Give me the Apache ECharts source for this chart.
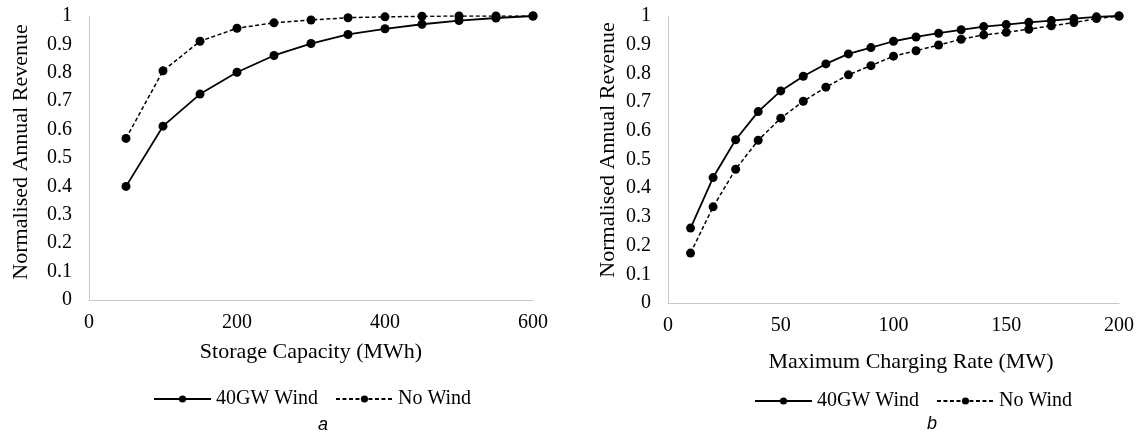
<!DOCTYPE html>
<html>
<head>
<meta charset="utf-8">
<script src="https://cdn.jsdelivr.net/npm/echarts@6/dist/echarts.min.js"></script>
<style>
html,body{margin:0;padding:0;background:#fff;}
#chart{width:1139px;height:432px;}
</style>
</head>
<body>
<div id="chart"></div>
<script>
// Panel a: Storage Capacity (MWh)
const capacityMWh = [50,100,150,200,250,300,350,400,450,500,550,600];
const capWind40   = [0.400,0.612,0.725,0.802,0.861,0.903,0.935,0.955,0.971,0.984,0.993,1.000];
const capNoWind   = [0.569,0.807,0.911,0.957,0.976,0.986,0.994,0.997,0.999,1.000,1.000,1.000];

// Panel b: Maximum Charging Rate (MW)
const rateMW      = [10,20,30,40,50,60,70,80,90,100,110,120,130,140,150,160,170,180,190,200];
const rateWind40  = [0.261,0.437,0.569,0.667,0.739,0.790,0.833,0.868,0.890,0.912,0.927,0.940,0.952,0.963,0.970,0.978,0.984,0.991,0.997,1.000];
const rateNoWind  = [0.174,0.335,0.466,0.567,0.644,0.703,0.752,0.795,0.827,0.860,0.879,0.899,0.919,0.934,0.943,0.954,0.966,0.977,0.991,1.000];

const seriesNames = ['40GW Wind','No Wind'];
const panelLabels = ['a','b'];
const yAxisTitle = 'Normalised Annual Revenue';
const xAxisTitles = ['Storage Capacity (MWh)','Maximum Charging Rate (MW)'];

const pairs = (xs, ys) => xs.map((x,i)=>[x, ys[i]]);
const serif = '"Liberation Serif","Times New Roman",serif';
const axisColor = '#c8c8c8';

function mkX(idx, max, interval, nameGap, padLeft){
  return {
    type:'value', gridIndex: idx, min:0, max:max, interval:interval,
    name: xAxisTitles[idx], nameLocation:'middle', nameGap:nameGap,
    nameTextStyle:{fontFamily:serif, fontSize:22, color:'#000', padding:[0,0,0,padLeft]},
    axisLine:{show:true, onZero:false, lineStyle:{color:axisColor, width:1}},
    axisTick:{show:false}, splitLine:{show:false},
    axisLabel:{fontFamily:serif, fontSize:20, color:'#000', margin:13}
  };
}
function mkY(idx, nameGap, pad){
  return {
    type:'value', gridIndex: idx, min:0, max:1, interval:0.1,
    name: yAxisTitle, nameLocation:'middle', nameGap:nameGap,
    nameTextStyle:{fontFamily:serif, fontSize:22, color:'#000', padding:pad},
    axisLine:{show:true, lineStyle:{color:axisColor, width:1}},
    axisTick:{show:false}, splitLine:{show:false},
    axisLabel:{fontFamily:serif, fontSize:20, color:'#000', margin:17}
  };
}
function mkSeries(name, xi, data, dashed){
  return {
    name:name, type:'line', xAxisIndex:xi, yAxisIndex:xi, data:data,
    symbol:'circle', symbolSize:9, showSymbol:true,
    itemStyle:{color:'#000'},
    lineStyle:{color:'#000', width: dashed?1.5:1.8, type: dashed?[4,2.5]:'solid'},
    animation:false, silent:true
  };
}

const chart = echarts.init(document.getElementById('chart'), null, {renderer:'canvas'});
chart.setOption({
  backgroundColor:'#fff',
  animation:false,
  grid:[
    {left:89, top:16, width:444, height:284},
    {left:668, top:16, width:451, height:287}
  ],
  xAxis:[ mkX(0, 600, 200, 41, 0), mkX(1, 200, 50, 48, 35) ],
  yAxis:[ mkY(0, 57, [0,0,0,12]), mkY(1, 49, [0,0,0,19]) ],
  legend:[
    {data:seriesNames, left:148, top:384, itemWidth:57, itemHeight:9, itemGap:17,
     textStyle:{fontFamily:serif, fontSize:20, color:'#000'}},
    {data:seriesNames, left:749, top:386, itemWidth:57, itemHeight:9, itemGap:17,
     textStyle:{fontFamily:serif, fontSize:20, color:'#000'}}
  ],
  title:[
    {text:panelLabels[0], left:318, top:411, textAlign:'center',
     textStyle:{fontFamily:'"Liberation Sans",Arial,sans-serif', fontStyle:'italic', fontWeight:'normal', fontSize:18, color:'#000'}},
    {text:panelLabels[1], left:927, top:410, textAlign:'center',
     textStyle:{fontFamily:'"Liberation Sans",Arial,sans-serif', fontStyle:'italic', fontWeight:'normal', fontSize:18, color:'#000'}}
  ],
  series:[
    mkSeries(seriesNames[0], 0, pairs(capacityMWh, capWind40), false),
    mkSeries(seriesNames[1], 0, pairs(capacityMWh, capNoWind), true),
    mkSeries(seriesNames[0], 1, pairs(rateMW, rateWind40), false),
    mkSeries(seriesNames[1], 1, pairs(rateMW, rateNoWind), true)
  ]
});
</script>
</body>
</html>
